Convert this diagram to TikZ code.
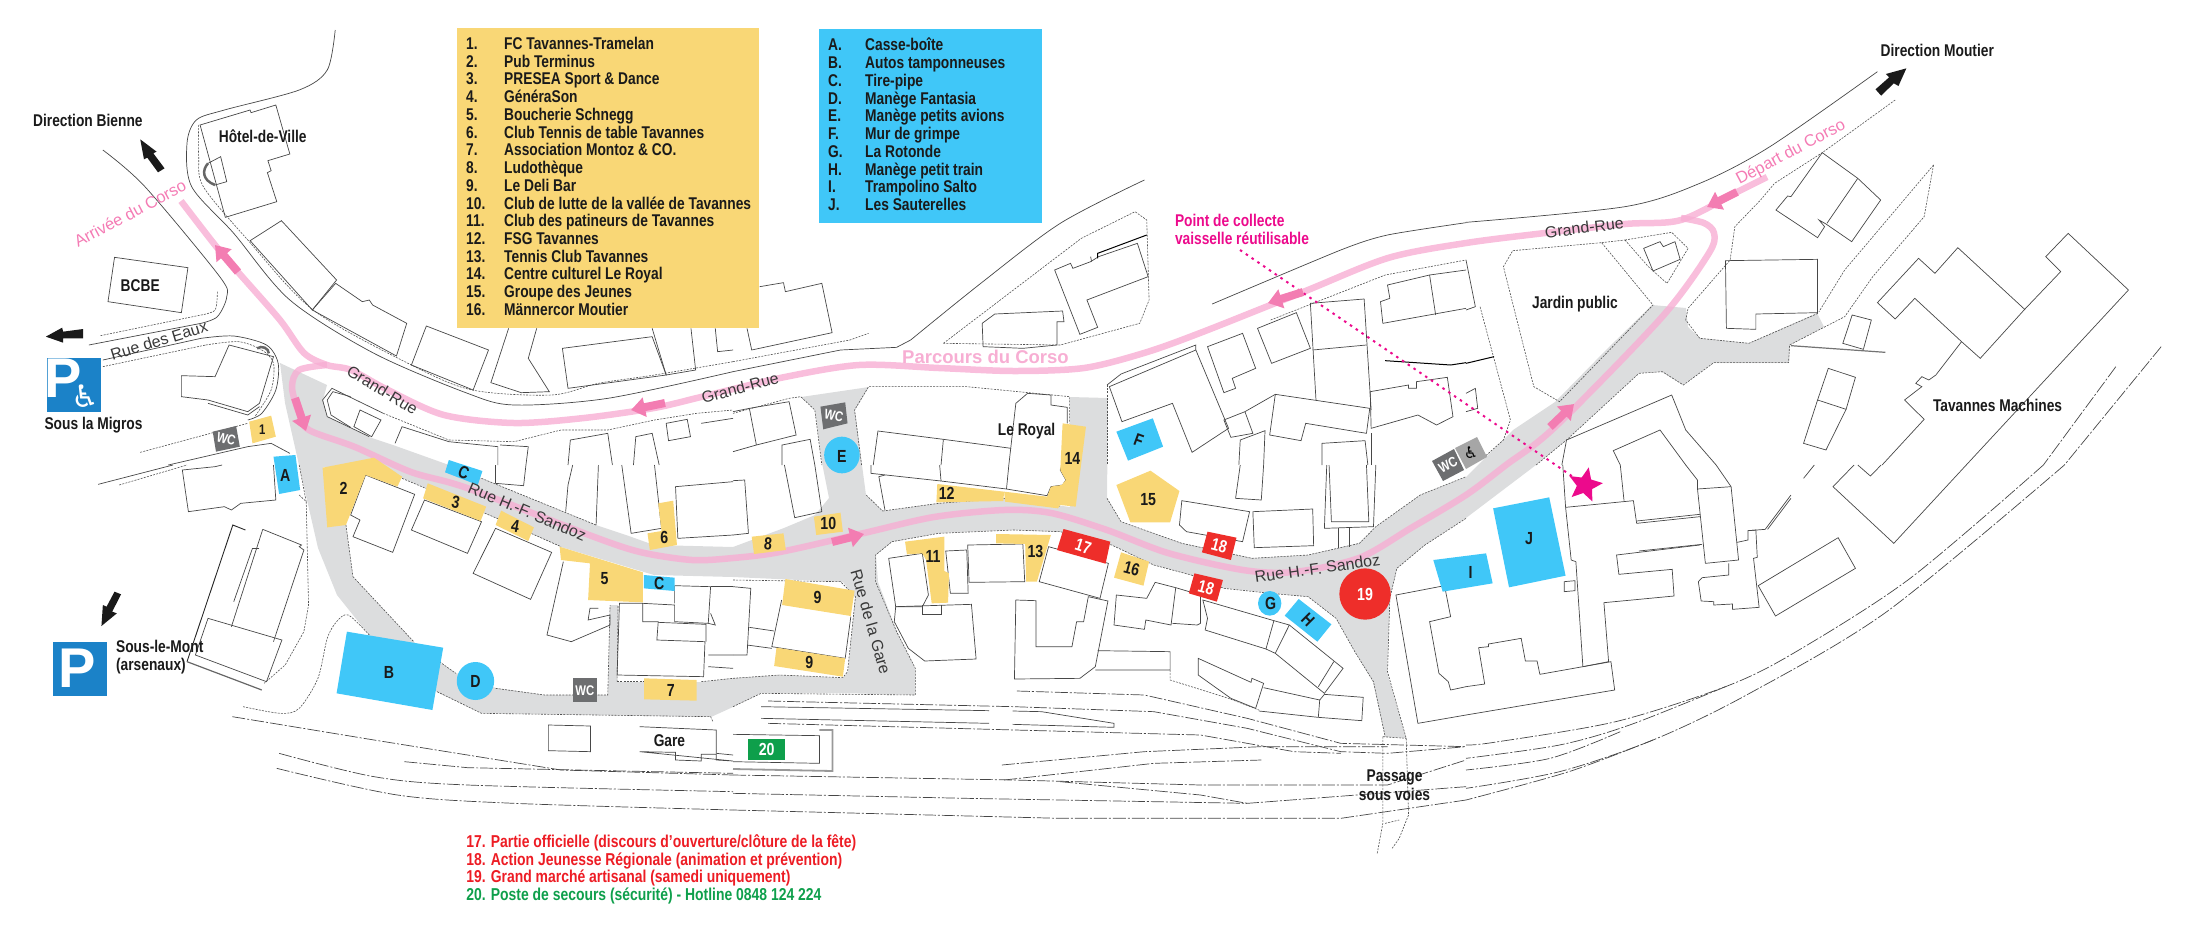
\documentclass[tikz,border=0pt]{standalone}
\usepackage{fontspec}
\usepackage{array}
\setmainfont{Liberation Sans}
\newfontfamily\narrowfont[FakeStretch=.81]{Liberation Sans}
\newfontfamily\symfont{DejaVu Sans}
\usetikzlibrary{arrows.meta,shapes.geometric}
\definecolor{roadgrey}{HTML}{DCDDDE}
\definecolor{clubyellow}{HTML}{F9D776}
\definecolor{fairblue}{HTML}{40C7F8}
\definecolor{hotred}{HTML}{EE2E2A}
\definecolor{listred}{HTML}{ED1C24}
\definecolor{aidgreen}{HTML}{0E9F4B}
\definecolor{wcgrey}{HTML}{6D6E70}
\definecolor{parkblue}{HTML}{1B82C8}
\definecolor{magentapt}{HTML}{EC0A8C}
\definecolor{corsolight}{HTML}{F7AED3}
\definecolor{corsodark}{HTML}{F37DB2}
\definecolor{corsotext}{HTML}{F47BB4}
\definecolor{ink}{HTML}{1A1A1A}
\tikzset{
	tile/.style 2 args={shift={(#1pt,-#2pt)},x=.4675pt,y=-.33333pt},
	bld/.style={draw=black!72,line width=.7pt,line join=miter},
	curb/.style={draw=black!68,line width=.6pt,dash pattern=on 2pt off 1.2pt},
	rail/.style={draw=black!72,line width=.7pt,dash pattern=on 13pt off 2pt on 2pt off 2pt},
	edge line/.style={draw=black!72,line width=.7pt},
	route/.style={draw=corsolight,line width=6.5pt,opacity=.8,line join=round},
	corsoarrow/.style={draw=corsodark,line width=8pt,-{Triangle[length=14pt,width=19pt]}},
	lbl/.style={font=\narrowfont\bfseries\fontsize{17}{17.7}\selectfont,text=ink,inner sep=0pt},
	tag/.style={lbl,font=\narrowfont\bfseries\fontsize{17.5}{18}\selectfont},
	whitetag/.style={tag,text=white},
	smalltag/.style={whitetag,font=\narrowfont\bfseries\fontsize{14}{15}\selectfont},
	street/.style={font=\fontsize{16}{18}\selectfont,text=black!78,inner sep=0pt},
	corsolabel/.style={font=\fontsize{16.5}{18}\selectfont,text=corsotext,inner sep=0pt},
	yellowbox/.style={fill=clubyellow},
	bluebox/.style={fill=fairblue},
	redbox/.style={fill=hotred},
	wcbox/.style={fill=wcgrey},
	blackarrow/.style={fill=ink},
	legendbox/.style={lbl,anchor=north west,inner sep=0pt,align=left},
	parksign/.style={inner sep=0pt,text=white,font=\bfseries\fontsize{56}{56}\selectfont}
}
\begin{document}
\begin{tikzpicture}[x=1pt,y=-1pt]
	\useasboundingbox (0,0) rectangle (2200,930);
	% roads
	\fill[roadgrey,even odd rule] (280,363) -- (327,385) -- (323,400) -- (327,417) -- (369,437) -- (393,445) -- (449,465) -- (481,478) -- (596,525) -- (626,535) -- (654,545) -- (733,547) -- (784,528) -- (815,515) -- (829,498) -- (822,463) -- (815,410) -- (801,397) -- (869,387) -- (855,410) -- (862,465) -- (866,495) -- (883,511) -- (939,503) -- (1004,498) -- (1070,507) -- (1070,397) -- (1108,398) -- (1107,498) -- (1121,522) -- (1182,543) -- (1252,558) -- (1308,555) -- (1359,543) -- (1376,527) -- (1420,495) -- (1466,477) -- (1513,430) -- (1555,402) -- (1606,350) -- (1652,305) -- (1686,308) -- (1688,327) -- (1700,338) -- (1749,343) -- (1817,313) -- (1824,327) -- (1790,345) -- (1789,363) -- (1713,363) -- (1683,385) -- (1662,372) -- (1639,373) -- (1566,440) -- (1536,465) -- (1466,518) -- (1425,545) -- (1397,568) -- (1390,598) -- (1387,672) -- (1406,738) -- (1385,737) -- (1373,682) -- (1355,652) -- (1336,618) -- (1308,597) -- (1271,593) -- (1224,588) -- (1191,575) -- (1154,565) -- (1112,545) -- (1060,532) -- (1014,530) -- (939,533) -- (892,542) -- (876,555) -- (878,582) -- (897,632) -- (915,668) -- (915,695) -- (840,693) -- (761,693) -- (733,707) -- (711,717) -- (481,713) -- (437,692) -- (369,635) -- (337,595) -- (318,548) -- (299,465) -- (285,403) -- cycle
		(323,467) -- (402,478) -- (505,522) -- (561,547) -- (654,575) -- (733,577) -- (843,582) -- (855,597) -- (848,672) -- (843,678) -- (780,675) -- (733,678) -- (701,682) -- (617,682) -- (618,605) -- (610,605) -- (608,695) -- (545,695) -- (496,688) -- (456,673) -- (439,662) -- (414,642) -- (353,577) -- (346,525) -- cycle;
	% corso route
	\draw[route] plot[smooth,tension=.5] coordinates {(1767,177) (1737,192) (1681,220) (1625,224) (1545,233) (1466,243) (1388,258) (1303,292) (1200,333) (1144,353) (1084,368) (1014,371) (939,368) (859,365) (780,378) (701,397) (654,408) (584,418) (514,423) (444,415) (388,390) (351,370) (327,365) (304,353) (280,320) (238,272) (215,245) (181,201)};
	\draw[route] plot[smooth,tension=.5] coordinates {(327,365) (299,370) (292,387) (299,413) (309,430) (355,447) (411,472) (467,488) (589,535) (640,552) (692,560) (733,558) (780,552) (864,533) (934,517) (1004,510) (1051,513) (1107,530) (1168,553) (1243,570) (1294,572) (1359,558) (1411,528) (1466,495) (1506,465) (1555,427) (1662,317) (1709,253) (1714,233) (1704,223) (1681,218)};
	% north-west part
	\begin{scope}[tile={0}{0}]
		\draw[edge line] plot[smooth,tension=.5] coordinates {(717,90) (700,210) (640,270) (480,330) (420,360) (400,430) (410,560) (500,700) (620,900) (800,1060) (1000,1180) (1100,1215) (1300,1195) (1568,1115)};
		\draw[curb] plot[smooth,tension=.5] coordinates {(425,375) (425,470) (435,560) (530,720) (670,930) (880,1095) (1010,1170) (1180,1185) (1280,1150) (1400,1125) (1568,1085)};
		\draw[edge line] plot[smooth,tension=.5] coordinates {(220,450) (310,560) (470,830) (485,890) (465,950) (430,970)} -- (190,1035);
		\draw[curb] plot[smooth,tension=.5] coordinates {(465,875) (460,930) (430,945)} -- (215,1007);
		\draw[edge line] (220,1080) -- (430,1015) plot[smooth,tension=.5] coordinates {(430,1015) (500,1008) (570,1035) (595,1090) (590,1170) (560,1240) (530,1260)};
		\draw[curb] (220,1100) -- (440,1035) plot[smooth,tension=.5] coordinates {(440,1035) (510,1025) (560,1050) (585,1090) (580,1170) (545,1250)};
		\draw[curb] (300,1357) -- (530,1270);
		\draw[edge line] (360,1395) -- (530,1340) -- (580,1330) -- (620,1360);
		\draw[bld] (428,375) -- (535,330) -- (537,338) -- (590,315) -- (620,462) -- (573,482) -- (580,512) -- (572,518) -- (592,605) -- (482,652) -- cycle;
		\draw[bld] (445,490) -- (472,470) -- (485,545) -- (460,555);
		\draw[black!60,line width=2.5pt] (445,490) .. controls (432,510) and (432,540) .. (460,555);
		\draw[black!60,line width=2.5pt] (550,1045) .. controls (560,1035) and (575,1045) .. (575,1060);
		\draw[bld] (535,722) -- (602,662) -- (720,840) -- (668,930) -- cycle;
		\draw[bld] (668,930) -- (718,850) -- (775,905) -- (790,900) -- (797,915) -- (870,970) -- (848,1068) -- cycle;
		\draw[bld] (880,1095) -- (912,978) -- (1045,1050) -- (1012,1170) -- cycle;
		\draw[bld] (1088,985) -- (1050,1148) -- (1115,1178) -- (1175,1175) -- (1130,1075) -- (1148,985);
		\draw[bld] (1203,1045) -- (1395,1010) -- (1425,1125) -- (1215,1165) -- cycle;
		\draw[bld] (1395,985) -- (1425,1125) -- (1488,1110) -- (1478,985);
		\draw[bld] (1530,985) -- (1535,1055) -- (1568,1050);
		\draw[bld] (388,1127) -- (460,1130) -- (490,1035) -- (585,1070) -- (555,1210) -- (530,1235) -- (445,1200) -- (388,1190) -- cycle;
		\draw[bld] (445,1210) -- (530,1245) -- (555,1220);
		\draw[bld] (820,1240) -- (710,1165) -- (690,1200) -- (700,1250) -- (790,1310);
		\draw[bld] (750,1190) -- (712,1175) -- (700,1200) -- (708,1245) -- (750,1282);
		\draw[bld] (770,1230) -- (815,1260) -- (795,1310) -- (757,1280) -- cycle;
		\draw[curb] (820,1240) -- (960,1320) -- (1100,1325) -- (1200,1290) -- (1300,1290) -- (1400,1260) -- (1490,1240) -- (1568,1230);
		\draw[bld] (845,1330) -- (860,1280) -- (960,1325) -- (1065,1340) -- (1065,1395);
		\draw[bld] (1070,1335) -- (1130,1340) -- (1125,1395);
		\draw[bld] (1215,1395) -- (1220,1320) -- (1300,1300) -- (1310,1395);
		\draw[bld] (1355,1395) -- (1360,1310) -- (1395,1300) -- (1410,1395);
		\draw[bld] (1425,1270) -- (1470,1258) -- (1477,1310) -- (1430,1322) -- cycle;
		\draw[bld] (1500,1270) -- (1568,1255);
		\draw[bld] (245,772) -- (402,803) -- (388,938) -- (231,905) -- cycle;
		\fill[yellowbox] (533,1265) -- (580,1247) -- (590,1310) -- (540,1330) -- cycle;
		\fill[wcbox] (455,1295) -- (505,1278) -- (513,1340) -- (462,1355) -- cycle;
		\fill[parkblue] (100,1075) rectangle (215,1237);
		\fill[blackarrow] (300,418) -- (335,455) -- (328,460) -- (352,505) -- (338,517) -- (315,473) -- (308,478) -- cycle;
		\fill[blackarrow] (98,1010) -- (133,983) -- (135,995) -- (178,987) -- (178,1015) -- (135,1015) -- (135,1028) -- cycle;
		\node[lbl] (dirBienne) at (188,362) {Direction Bienne};
		\node[lbl] (hotelVille) at (562,408) {Hôtel-de-Ville};
		\node[lbl] (bcbe) at (300,857) {BCBE};
		\node[lbl] (migros) at (200,1276) {Sous la Migros};
		\node[street,rotate=17] (rueEaux) at (340,1022) {Rue des Eaux};
		\node[street,rotate=-31] (grandRueA) at (818,1170) {Grand-Rue};
		\node[corsolabel,rotate=28] (arrivee) at (278,640) {Arrivée du Corso};
		\node[parksign] (parkA) at (136,1135) {P};
		\node[inner sep=0pt,text=white,font=\symfont\fontsize{31}{31}\selectfont] (wheelA) at (182,1190) {♿};
		\node[smalltag,rotate=-15] (wcA) at (484,1317) {WC};
		\node[tag,font=\narrowfont\bfseries\fontsize{14}{15}\selectfont] (tagOne) at (561,1290) {1};
	\end{scope}
	% north-middle part
	\begin{scope}[tile={733}{0}]
		\draw[bld] (57,860) -- (108,848) -- (112,875) -- (190,850) -- (212,998) -- (40,1050) -- (30,985);
		\draw[curb] (0,1085) -- (250,1020) -- (290,1000);
		\draw[edge line] (0,1115) -- (230,1050) -- (350,1042) -- (380,1020) plot[smooth,tension=.5] coordinates {(380,1020) (530,850) (700,670) (880,540)};
		\draw[curb] (450,1030) -- (745,715) -- (860,635) -- (885,660) -- (890,900) -- (870,970) -- (700,1035) -- cycle;
		\draw[edge line] plot[smooth,tension=.4] coordinates {(1025,912) (1300,750) (1400,705) (1568,668)};
		\draw[curb] (1150,960) -- (1395,825) -- (1568,780);
		\draw[bld] (688,810) -- (722,790) -- (727,805) -- (765,785) -- (782,770) -- (865,730) -- (888,830) -- (757,900) -- (780,982) -- (742,1003) -- cycle;
		\draw[black,line width=1pt] (885,705) -- (780,760) -- (780,775);
		\draw[bld] (765,770) -- (767,785);
		\draw[bld] (533,970) -- (560,942) -- (705,933) -- (708,965) -- (693,965) -- (693,1035) -- (620,1045) -- (535,1040) -- cycle;
		\draw[bld] (805,1160) -- (990,1050) -- (1060,1285) -- (982,1357) -- (940,1210) -- (832,1265) -- cycle;
		\draw[bld] (800,1155) -- (830,1122) -- (990,1035) -- (990,1050);
		\draw[bld] (1015,1040) -- (1090,1000) -- (1118,1105) -- (1068,1135) -- (1075,1165) -- (1050,1178) -- cycle;
		\draw[bld] (1122,985) -- (1205,938) -- (1235,1045) -- (1152,1090) -- cycle;
		\draw[bld] (1247,1200) -- (1235,910) -- (1350,897) -- (1365,1230);
		\draw[bld] (1240,1050) -- (1355,1035);
		\draw[bld] (1160,1183) -- (1362,1225) -- (1355,1300) -- (1225,1270) -- (1215,1322) -- (1148,1305) -- cycle;
		\draw[bld] (1050,1260) -- (1095,1235) -- (1112,1300) -- (1065,1312) -- cycle;
		\draw[bld] (1160,1183) -- (1095,1235);
		\draw[bld] (1082,1395) -- (1085,1320) -- (1138,1292) -- (1135,1395);
		\draw[bld] (1363,1175) -- (1445,1155) -- (1445,1165) -- (1462,1165) -- (1462,1145) -- (1528,1132) -- (1540,1250) -- (1505,1275) -- (1465,1245) -- (1365,1285) -- cycle;
		\draw[black,line width=1pt] (1395,1082) -- (1535,1095) -- (1568,1088);
		\draw[bld] (1390,970) -- (1385,905) -- (1405,895) -- (1400,855) -- (1490,825) -- (1568,810);
		\draw[bld] (1390,970) -- (1568,925);
		\draw[bld] (1490,825) -- (1503,945);
		\draw[bld] (300,1395) -- (310,1293) -- (450,1318) -- (595,1345);
		\draw[bld] (450,1318) -- (445,1395);
		\draw[bld] (590,1395) -- (605,1210) -- (630,1180) -- (680,1185) -- (680,1215) -- (715,1222) -- (715,1270);
		\draw[bld] (0,1235) -- (35,1225) -- (120,1205) -- (135,1305) -- (50,1335) -- (0,1355);
		\draw[bld] (35,1225) -- (50,1335);
		\draw[bld] (105,1395) -- (105,1335) -- (165,1318) -- (175,1395);
		\draw[curb] (0,1240) -- (120,1195) -- (145,1190) -- (175,1230) -- (190,1395);
		\draw[curb] (275,1395) -- (260,1230) -- (290,1160) -- (500,1160) -- (720,1190) -- (720,1270);
		\draw[curb] (800,1155) -- (800,1395);
		\draw[bld] (1260,1395) -- (1260,1330) -- (1352,1322) -- (1358,1395);
		\draw[bld] (1365,1395) -- (1365,1300);
		\fill[fairblue] (183,87) rectangle (660,668);
		\fill[bluebox] (820,1295) -- (898,1255) -- (920,1340) -- (845,1382) -- cycle;
		\fill[wcbox] (187,1220) -- (240,1207) -- (245,1270) -- (193,1288) -- cycle;
		\node[street,text=corsolight,font=\bfseries\fontsize{18.5}{20}\selectfont] (parcours) at (540,1072) {Parcours du Corso};
		\node[lbl] (leRoyal) at (628,1292) {Le Royal};
		\node[smalltag,rotate=-12] (wcE) at (216,1248) {WC};
		\node[tag,rotate=-20] (tagF) at (868,1320) {F};
		\node[lbl,anchor=north west,align=left,text=magentapt] (collecte) at (945,642) {Point de collecte\\vaisselle réutilisable};
	\end{scope}
	% north-east part
	\begin{scope}[tile={1466}{0}]
		\draw[edge line] plot[smooth,tension=.5] coordinates {(0,667) (340,620) (500,550) (650,440) (880,215)};
		\draw[curb] (918,300) -- (762,458) -- (660,550) -- (630,600) -- (575,680) -- (565,780) -- (475,925) -- (470,960) -- (500,1015) -- (605,1030) -- (753,940);
		\draw[curb] (1000,495) -- (980,650) -- (870,830) -- (810,950) -- (692,1035) -- (690,1088) -- (530,1088) -- (465,1155) -- (420,1115) -- (370,1120) -- (215,1320) -- (150,1395);
		\draw[curb] (1000,495) -- (810,810) -- (755,935);
		\draw[curb] (100,752) -- (290,728) -- (400,915) -- (200,1205) -- (145,1160) -- (80,800) -- cycle;
		\draw[curb] (340,720) -- (440,697) -- (475,745) -- (430,850) -- (390,800) -- cycle;
		\draw[curb] (290,728) -- (340,720);
		\draw[curb] (30,920) -- (95,1260) -- (80,1320) -- (40,1370);
		\draw[bld] (762,458) -- (838,535) -- (887,600) -- (825,725) -- (770,672) -- (755,660) -- (767,680) -- (752,713) -- (663,630) -- (688,588) -- (695,590) -- cycle;
		\draw[bld] (838,535) -- (772,670);
		\draw[bld] (380,745) -- (415,725) -- (422,740) -- (447,725) -- (458,778) -- (400,813) -- cycle;
		\draw[bld] (555,782) -- (752,778) -- (752,938) -- (620,942) -- (620,988) -- (557,985) -- cycle;
		\draw[bld] (826,945) -- (867,960) -- (850,1048) -- (806,1030) -- cycle;
		\draw[black!55,line width=1.2pt] (695,1037) -- (897,1057);
		\draw[bld] (775,1105) -- (752,1200) -- (813,1228) -- (833,1132) -- cycle;
		\draw[bld] (752,1200) -- (722,1330) -- (770,1350) -- (813,1228);
		\draw[bld] (968,775) -- (1003,820) -- (1052,743) -- (1195,928) -- (1100,1075) -- (1060,1025) -- (960,895) -- (918,957) -- (880,908) -- cycle;
		\draw[bld] (1195,928) -- (1272,815) -- (1240,770) -- (1288,700) -- (1417,870) -- (1070,1395);
		\draw[bld] (890,1395) -- (980,1258) -- (938,1200) -- (975,1160) -- (962,1150) -- (975,1130) -- (990,1140) -- (1005,1125) -- (1060,1025);
		\draw[bld] (0,780) -- (20,920) -- (0,930);
		\draw[black,line width=1pt] (0,1090) -- (60,1070);
		\draw[bld] (0,1180) -- (20,1165) -- (25,1225) -- (0,1235);
		\draw[bld] (205,1395) -- (215,1320) -- (440,1185) -- (470,1290) -- (535,1395);
		\draw[bld] (330,1395) -- (315,1352) -- (415,1290) -- (470,1395);
		\draw[rail] (1390,1100) -- (1235,1395);
		\draw[rail] (1487,1040) -- (1280,1395);
		\node[lbl] (dirMoutier) at (1008,150) {Direction Moutier};
		\node[lbl] (jardin) at (233,912) {Jardin public};
		\node[lbl] (machines) at (1137,1217) {Tavannes Machines};
		\node[street,rotate=7] (grandRueC) at (253,683) {Grand-Rue};
		\node[corsolabel,rotate=28] (depart) at (695,458) {Départ du Corso};
		\fill[blackarrow] (942,205) -- (925,258) -- (915,250) -- (888,287) -- (876,268) -- (905,232) -- (898,222) -- cycle;
	\end{scope}
	% south-west part
	\begin{scope}[tile={0}{465}]
		\draw[edge line] (210,58) -- (370,0);
		\draw[curb] (255,60) -- (400,0);
		\draw[bld] (475,0) -- (460,5) -- (390,15) -- (403,140) -- (480,125) -- (495,135) -- (515,115) -- (590,105) -- (585,0);
		\draw[black!85,line width=.9pt] (525,195) -- (498,180) -- (400,590);
		\draw[bld] (562,193) -- (645,240) -- (640,245) -- (650,255) -- (585,530);
		\draw[bld] (562,193) -- (495,485);
		\draw[bld] (540,250) -- (500,410);
		\draw[bld] (555,250) -- (540,250);
		\draw[bld] (445,460) -- (603,525) -- (570,650) -- (418,570) -- cycle;
		\draw[black!60,line width=1.2pt] (400,590) -- (560,675);
		\draw[curb] (640,90) -- (655,110) -- (660,420) -- (650,500) -- (610,600) -- (565,655);
		\draw[curb] plot[smooth,tension=.5] coordinates {(520,725) (600,745) (640,730) (680,640) (700,520) (720,470) (745,450) (790,510)};
		\draw[curb] (640,0) -- (655,110);
		\draw[curb] (755,335) -- (885,530);
		\draw[curb] (740,180) -- (755,335);
		\draw[curb] (940,590) -- (975,625) (1060,670) -- (1165,690) -- (1300,690) -- (1305,420);
		\draw[curb] (935,680) -- (1030,745) -- (1520,755) -- (1525,770);
		\draw[curb] (1320,650) -- (1322,420);
		\draw[curb] (1320,650) -- (1380,650);
		\draw[curb] (1500,650) -- (1568,640);
		\draw[curb] (860,40) -- (1080,170) -- (1200,245);
		\draw[curb] (1030,40) -- (1275,180);
		\draw[bld] (782,30) -- (887,88) -- (840,262) -- (755,215) -- (770,165) -- (750,150) -- cycle;
		\draw[bld] (908,105) -- (1030,170) -- (1000,265) -- (880,195) -- cycle;
		\draw[bld] (1060,190) -- (1180,262) -- (1135,403) -- (1012,325) -- cycle;
		\draw[bld] (1205,290) -- (1170,510) -- (1222,530) -- (1305,480) -- (1305,450) -- (1258,465) -- (1262,430) -- (1280,430);
		\draw[bld] (1325,415) -- (1320,630) -- (1505,635) -- (1508,530) -- (1405,525) -- (1408,470) -- (1375,470) -- (1375,415) -- cycle;
		\draw[bld] (1375,415) -- (1443,420) -- (1443,470) -- (1515,475) -- (1520,365) -- (1443,362) -- (1443,415);
		\draw[bld] (1408,472) -- (1510,478) -- (1510,530);
		\draw[bld] (1520,365) -- (1568,365);
		\draw[bld] (1515,475) -- (1530,480) -- (1520,445);
		\draw[bld] (1515,570) -- (1568,570) (1515,605) -- (1568,610);
		\draw[bld] (1368,785) -- (1532,795) -- (1532,865) -- (1568,870);
		\draw[bld] (1568,888) -- (1532,885) -- (1532,868) -- (1500,868) -- (1500,888) -- (1445,885) -- (1445,862) -- (1368,860) -- cycle;
		\draw[bld] (1173,780) -- (1263,783) -- (1263,860) -- (1173,857) -- cycle;
		\draw[bld] (1060,0) -- (1060,55) -- (1120,62) -- (1125,0);
		\draw[bld] (1225,0) -- (1215,60) -- (1210,140);
		\draw[bld] (1280,0) -- (1275,180);
		\draw[bld] (1330,0) -- (1350,205) -- (1415,190) -- (1400,0);
		\draw[bld] (1568,210) -- (1450,220) -- (1445,65) -- (1568,50);
		\draw[rail] (497,755) -- (800,825) -- (1200,915) -- (1568,930);
		\draw[rail] plot[smooth,tension=.5] coordinates {(597,865) (800,935) (1000,960) (1568,980)};
		\draw[rail] plot[smooth,tension=.5] coordinates {(592,910) (850,990) (1100,1015) (1568,1035)};
		\draw[rail] (865,890) -- (1000,908) -- (1568,925);
		\fill[bluebox] (585,-25) -- (632,-30) -- (642,75) -- (597,87) -- cycle;
		\fill[yellowbox] (690,8) -- (800,-22) -- (860,35) -- (850,65) -- (782,30) -- (740,180) -- (700,187) -- cycle;
		\fill[yellowbox] (915,55) -- (1040,125) -- (1028,168) -- (905,100) -- cycle;
		\fill[yellowbox] (1072,137) -- (1142,187) -- (1130,228) -- (1060,180) -- cycle;
		\fill[yellowbox] (1197,245) -- (1375,322) -- (1375,412) -- (1258,405) -- (1262,295) -- (1200,285) -- cycle;
		\fill[bluebox] (1377,330) -- (1443,338) -- (1443,378) -- (1377,370) -- cycle;
		\fill[bluebox] (960,-15) -- (1032,18) -- (1022,60) -- (952,22) -- cycle;
		\fill[yellowbox] (1408,115) -- (1440,107) -- (1448,240) -- (1390,255) -- (1385,205) -- (1415,198) -- cycle;
		\fill[yellowbox] (1378,640) -- (1490,645) -- (1490,707) -- (1378,703) -- cycle;
		\fill[wcbox] (1226,638) rectangle (1277,710);
		\fill[bluebox] (742,500) -- (948,548) -- (925,735) -- (720,685) -- cycle;
		\fill[bluebox] (1017,648) ellipse [x radius=40,y radius=57];
		\fill[parkblue] (113,530) rectangle (229,692);
		\fill[blackarrow] (217,483) -- (250,445) -- (240,440) -- (259,388) -- (245,380) -- (228,425) -- (220,420) -- cycle;
		\node[parksign] (parkB) at (165,610) {P};
		\node[lbl,anchor=west,align=left] (arsenaux) at (248,577) {Sous-le-Mont\\(arsenaux)};
		\node[tag] (tagA) at (610,30) {A};
		\node[tag] (tagTwo) at (735,70) {2};
		\node[tag,rotate=-10] (tagThree) at (975,112) {3};
		\node[tag,rotate=-10] (tagFour) at (1102,185) {4};
		\node[tag] (tagFive) at (1293,342) {5};
		\node[tag] (tagC) at (1410,355) {C};
		\node[tag,rotate=-20] (tagCb) at (992,22) {C};
		\node[tag] (tagSix) at (1421,218) {6};
		\node[tag] (tagSeven) at (1435,675) {7};
		\node[tag] (tagB) at (832,622) {B};
		\node[tag] (tagD) at (1017,650) {D};
		\node[smalltag] (wcD) at (1251,677) {WC};
		\node[street,rotate=-23] (rueSandozA) at (1128,140) {Rue H.-F. Sandoz};
		\node[lbl] (gare) at (1432,828) {Gare};
		\node[lbl,anchor=north west,align=left,font=\narrowfont\bfseries\fontsize{17.2}{17.7}\selectfont] (redList) at (997,1108) {\textcolor{listred}{17. Partie officielle (discours d’ouverture/clôture de la fête)}\\\textcolor{listred}{18. Action Jeunesse Régionale (animation et prévention)}\\\textcolor{listred}{19. Grand marché artisanal (samedi uniquement)}\\\textcolor{aidgreen}{20. Poste de secours (sécurité) - Hotline 0848 124 224}};
	\end{scope}
	% south-middle part
	\begin{scope}[tile={733}{465}]
		\draw[bld] (295,0) -- (295,25) -- (445,48) -- (585,72) -- (672,92) -- (680,65) -- (705,60) -- (712,45) -- (700,15) -- (704,0);
		\draw[bld] (445,48) -- (442,0);
		\draw[bld] (585,72) -- (590,0);
		\draw[bld] (325,135) -- (312,35) -- (325,30);
		\draw[bld] (0,47) -- (25,45) -- (33,205) -- (0,210);
		\draw[bld] (110,0) -- (132,158) -- (190,140) -- (175,0);
		\draw[bld] (1075,100) -- (1085,0);
		\draw[bld] (1135,0) -- (1130,105) -- (1075,100);
		\draw[bld] (960,107) -- (1105,140) -- (1090,230) -- (970,200) -- (955,180) -- cycle;
		\draw[bld] (1112,140) -- (1240,132) -- (1242,242) -- (1115,248) -- cycle;
		\draw[bld] (1270,0) -- (1265,190) -- (1370,185) -- (1375,0);
		\draw[bld] (1275,0) -- (1280,170) -- (1360,170) -- (1355,0);
		\draw[bld] (1295,190) -- (1295,250) (1318,190) -- (1318,245);
		\draw[curb] (320,138) -- (440,115) -- (580,100) -- (700,125);
		\draw[curb] (285,90) -- (320,138);
		\draw[curb] (800,100) -- (830,170) -- (960,235) -- (1110,280) -- (1230,270) -- (1340,235) -- (1375,185) -- (1470,90) -- (1568,35);
		\draw[curb] (0,345) -- (230,350) -- (262,395) -- (245,620) -- (235,638) -- (100,630) -- (0,640);
		\draw[curb] (0,725) -- (60,685) -- (390,690) -- (390,610) -- (350,500) -- (305,350) -- (305,270) -- (340,230) -- (440,205) -- (600,195) -- (700,200) -- (810,240) -- (900,300) -- (980,330);
		\draw[curb] (980,330) -- (1050,370) -- (1150,385) -- (1230,395) -- (1290,460) -- (1330,560) -- (1370,650) -- (1395,815);
		\draw[curb] (1568,160) -- (1480,240) -- (1420,310) -- (1405,400) -- (1400,620) -- (1440,820);
		\draw[bld] (333,280) -- (405,265) -- (418,390) -- (405,425) -- (348,425) -- cycle;
		\draw[bld] (348,425) -- (510,418) -- (520,582) -- (410,588) -- (375,550) -- (345,470) -- cycle;
		\draw[bld] (405,420) -- (405,448) -- (445,448) -- (445,420);
		\draw[bld] (455,258) -- (500,255) -- (503,385) -- (465,385) -- cycle;
		\draw[bld] (502,240) -- (620,237) -- (624,350) -- (505,352) -- cycle;
		\draw[bld] (675,245) -- (803,295) -- (785,400) -- (655,350) -- cycle;
		\draw[bld] (605,405) -- (648,407) -- (648,545) -- (725,545) -- (735,470) -- (750,470) -- (760,395) -- (802,408) -- (775,605) -- (742,640) -- (602,642) -- cycle;
		\draw[bld] (780,557) -- (935,560) -- (935,615) -- (775,615);
		\draw[bld] (820,390) -- (885,400) -- (903,352) -- (947,368) -- (937,480) -- (883,465) -- (880,493) -- (815,480) -- cycle;
		\draw[bld] (947,368) -- (1000,390) -- (1000,475) -- (993,480) -- (940,475);
		\draw[bld] (1005,405) -- (1157,467) -- (1140,552) -- (1010,495) -- (1015,460) -- cycle;
		\draw[bld] (1157,467) -- (1190,480) -- (1160,565) -- (1140,552);
		\draw[bld] (1190,480) -- (1305,610) -- (1265,685) -- (1160,565);
		\draw[bld] (1285,590) -- (1252,665);
		\draw[bld] (995,580) -- (1108,652) -- (1110,640) -- (1135,655) -- (1118,730) -- (1065,700) -- (995,630) -- cycle;
		\draw[bld] (1135,668) -- (1255,705) -- (1252,757) -- (1125,738);
		\draw[bld] (1255,705) -- (1265,688) -- (1348,697) -- (1345,767) -- (1252,757);
		\draw[curb] (935,615) -- (935,645) -- (1060,700) -- (1125,735);
		\draw[bld] (1568,665) -- (1535,675) -- (1530,650) -- (1510,625) -- (1490,470) -- (1535,455) -- (1522,362) -- (1418,390) -- (1465,775) -- (1568,750);
		\draw[bld] (104,405) -- (83,545) -- (240,580) -- (252,455);
		\draw[bld] (35,487) -- (88,498) (30,540) -- (83,550);
		\draw[bld] (0,365) -- (38,370) -- (30,570) -- (0,570);
		\draw[bld] (0,808) -- (185,812) -- (185,895) -- (0,890);
		\draw[black!40,line width=1.8pt] (185,795) -- (213,795) -- (213,918) -- (0,912);
		\draw[rail] (607,678) -- (880,690) -- (1100,760) -- (1300,835) -- (1568,845);
		\draw[rail] (75,708) -- (600,725) -- (900,740) -- (1100,790) -- (1300,860) -- (1400,865) -- (1568,845);
		\draw[bld] (60,725) -- (548,737);
		\draw[bld] (60,760) -- (548,775);
		\draw[rail] (75,775) -- (1000,810) -- (1200,860) -- (1300,865);
		\draw[bld] (598,738) -- (660,740) -- (815,775) -- (815,787) -- (598,778);
		\draw[rail] (575,900) -- (880,860) -- (1130,845) -- (1400,845);
		\draw[rail] (580,945) -- (900,895) -- (1130,885);
		\draw[rail] (0,930) -- (600,945) -- (1000,960) -- (1400,960) -- (1568,885);
		\draw[rail] (0,985) -- (500,1000) -- (1100,1015) -- (1568,965);
		\draw[rail] (0,1035) -- (700,1060) -- (1300,1060) -- (1568,1005);
		\draw[rail] (700,950) -- (1000,990) -- (1100,1015);
		\draw[curb] (1390,815) -- (1390,1075) -- (1378,1165);
		\draw[curb] (1440,820) -- (1445,1050) -- (1425,1120) -- (1410,1150);
		\draw[curb] (1395,1075) -- (1425,1065);
		\draw[curb] (1390,815) -- (1440,820);
		\fill[yellowbox] (40,215) -- (108,205) -- (113,255) -- (45,267) -- cycle;
		\fill[yellowbox] (173,155) -- (230,143) -- (235,200) -- (178,210) -- cycle;
		\fill[yellowbox] (437,57) -- (580,80) -- (578,108) -- (435,112) -- cycle;
		\fill[yellowbox] (705,-125) -- (755,-115) -- (733,125) -- (700,120) -- (695,130) -- (582,110) -- (580,80) -- (672,95) -- (680,65) -- (703,60) -- (712,45) -- (700,15) -- cycle;
		\fill[yellowbox] (893,17) -- (955,78) -- (935,172) -- (850,172) -- (820,60) -- cycle;
		\fill[yellowbox] (368,230) -- (452,215) -- (452,318) -- (462,325) -- (460,413) -- (425,415) -- (413,285) -- (405,265) -- (372,268) -- cycle;
		\fill[yellowbox] (563,207) -- (680,210) -- (650,350) -- (627,350) -- (625,237) -- (563,235) -- cycle;
		\fill[redbox] (707,192) -- (807,230) -- (797,296) -- (693,255) -- cycle;
		\fill[redbox] (1015,200) -- (1077,218) -- (1065,285) -- (1003,262) -- cycle;
		\fill[redbox] (987,325) -- (1048,345) -- (1035,410) -- (975,385) -- cycle;
		\fill[yellowbox] (830,262) -- (890,290) -- (878,362) -- (815,338) -- cycle;
		\fill[redbox] (1352,387) ellipse [x radius=55,y radius=77];
		\fill[bluebox] (1148,415) ellipse [x radius=25,y radius=37];
		\fill[bluebox] (1210,402) -- (1280,478) -- (1250,530) -- (1180,452) -- cycle;
		\fill[yellowbox] (112,342) -- (260,377) -- (252,453) -- (105,420) -- cycle;
		\fill[yellowbox] (93,548) -- (240,580) -- (235,635) -- (88,603) -- cycle;
		\fill[aidgreen] (33,822) rectangle (112,885);
		\fill[bluebox] (233,-30) ellipse [x radius=38,y radius=55];
		\node[tag] (tagE) at (233,-25) {E};
		\node[tag,rotate=-5] (tagEight) at (75,236) {8};
		\node[tag] (tagTen) at (204,176) {10};
		\node[tag] (tagTwelve) at (457,86) {12};
		\node[tag] (tagFourteen) at (726,-20) {14};
		\node[tag] (tagFifteen) at (888,105) {15};
		\node[tag] (tagEleven) at (428,275) {11};
		\node[tag] (tagThirteen) at (647,258) {13};
		\node[whitetag,rotate=-18] (tagSeventeen) at (749,244) {17};
		\node[whitetag,rotate=-15] (tagEighteenA) at (1040,243) {18};
		\node[whitetag,rotate=-15] (tagEighteenB) at (1012,367) {18};
		\node[tag,rotate=-15] (tagSixteen) at (853,312) {16};
		\node[whitetag] (tagNineteen) at (1352,387) {19};
		\node[tag] (tagG) at (1150,415) {G};
		\node[tag,rotate=-45] (tagH) at (1230,465) {H};
		\node[tag] (tagNineA) at (181,398) {9};
		\node[tag] (tagNineB) at (163,592) {9};
		\node[whitetag] (tagTwenty) at (72,853) {20};
		\node[street,rotate=8] (rueSandozB) at (1250,310) {Rue H.-F. Sandoz};
		\node[street,rotate=-74] (rueGare) at (295,470) {Rue de la Gare};
		\node[lbl,align=center,font=\narrowfont\bfseries\fontsize{17}{18.7}\selectfont] (passage) at (1415,960) {Passage\\sous voies};
	\end{scope}
	% south-east part
	\begin{scope}[tile={1466}{465}]
		\draw[bld] (207,0) -- (213,127) -- (358,107) -- (365,175) -- (500,155);
		\draw[bld] (365,168) -- (500,148);
		\draw[bld] (330,0) -- (338,107);
		\draw[bld] (500,240) -- (322,270) -- (327,328) -- (441,313) -- (445,393) -- (295,413) -- (305,590) -- (250,605) -- (235,290) -- (225,285) -- (213,127);
		\draw[bld] (370,258) -- (505,238);
		\draw[bld] (470,0) -- (495,45) -- (495,70) -- (512,295) -- (583,285) -- (567,65) -- (535,0);
		\draw[bld] (495,72) -- (567,65);
		\draw[bld] (562,295) -- (562,330) -- (505,338) -- (497,350) -- (503,408) -- (530,410) -- (530,420) -- (570,417) -- (570,433) -- (627,427) -- (615,280) -- (623,277) -- (620,195) -- (603,197) -- (603,225) -- (580,232);
		\draw[bld] (603,197) -- (640,193) -- (695,90);
		\draw[bld] (645,193) -- (695,100);
		\draw[bld] (625,362) -- (796,218) -- (833,310) -- (662,453) -- cycle;
		\draw[bld] (210,350) -- (233,347) -- (233,377) -- (210,380) -- cycle;
		\draw[bld] (1070,0) -- (915,235) -- (785,65) -- (830,0);
		\draw[bld] (838,0) -- (865,33) -- (888,0);
		\draw[bld] (745,0) -- (722,40);
		\draw[bld] (0,750) -- (318,675) -- (310,590) -- (158,628) -- (152,588) -- (127,588) -- (118,520) -- (48,537) -- (48,545) -- (27,548) -- (40,657) -- (0,665);
		\draw[rail] plot[smooth,tension=.5] coordinates {(1235,0) (950,340) (700,565) (555,665) (320,770) (60,832) (0,840)};
		\draw[rail] plot[smooth,tension=.5] coordinates {(1280,0) (900,440) (600,690) (400,825) (200,920) (0,970)};
		\draw[rail] plot[smooth,tension=.5] coordinates {(555,665) (350,780) (200,840) (0,880)};
		\draw[rail] plot[smooth,tension=.5] coordinates {(330,800) (180,880) (0,915)};
		\draw[rail] plot[smooth,tension=.5] coordinates {(400,825) (220,920) (0,1005)};
		\fill[bluebox] (58,130) -- (178,97) -- (213,332) -- (92,367) -- cycle;
		\fill[bluebox] (-70,285) -- (43,265) -- (57,355) -- (-50,380) -- cycle;
		\node[tag] (tagJ) at (135,222) {J};
		\node[tag] (tagI) at (10,322) {I};
	\end{scope}
	% collection point
	\node[star,star points=5,star point ratio=2.2,fill=magentapt,minimum size=36pt,inner sep=0pt,rotate=-12] (collectStar) at (1585,485) {};
	\coordinate (collectStart) at (1240,250);
	\draw[magentapt,line width=2pt,dash pattern=on 2.5pt off 4.5pt] (collectStart) -- (collectStar);
	% corso arrows
	\draw[corsoarrow] (238,272) -- (215,245);
	\draw[corsoarrow] (295,398) -- (306,431);
	\draw[corsoarrow] (665,403) -- (631,410);
	\draw[corsoarrow] (1303,292) -- (1268,303);
	\draw[corsoarrow] (1737,192) -- (1707,207);
	\draw[corsoarrow] (1550,427) -- (1574,404);
	\draw[corsoarrow] (832,542) -- (864,534);
	% street label over the route
	\node[street,rotate=15] (grandRueB) at (740,388) {Grand-Rue};
	% wc with access
	\fill[wcbox] (1432,461) -- (1454,449) -- (1464,470) -- (1443,481) -- cycle;
	\fill[black!35] (1455,448) -- (1477,437) -- (1487,457) -- (1466,469) -- cycle;
	\node[smalltag,rotate=28] (wcJ) at (1448,465) {WC};
	\node[inner sep=0pt,font=\symfont\fontsize{16}{16}\selectfont] (wheelJ) at (1471,453) {♿};
	% legends
	\fill[clubyellow] (457,28) rectangle (759,328);
	\node[legendbox] (clubList) at (466,37) {\setlength{\tabcolsep}{0pt}\renewcommand{\arraystretch}{1}\begin{tabular}{@{}p{38pt}l@{}}
		1. & FC Tavannes-Tramelan\\
		2. & Pub Terminus\\
		3. & PRESEA Sport \& Dance\\
		4. & GénéraSon\\
		5. & Boucherie Schnegg\\
		6. & Club Tennis de table Tavannes\\
		7. & Association Montoz \& CO.\\
		8. & Ludothèque\\
		9. & Le Deli Bar\\
		10. & Club de lutte de la vallée de Tavannes\\
		11. & Club des patineurs de Tavannes\\
		12. & FSG Tavannes\\
		13. & Tennis Club Tavannes\\
		14. & Centre culturel Le Royal\\
		15. & Groupe des Jeunes\\
		16. & Männercor Moutier
	\end{tabular}};
	\node[legendbox] (fairList) at (828,38) {\setlength{\tabcolsep}{0pt}\renewcommand{\arraystretch}{1}\begin{tabular}{@{}p{37pt}l@{}}
		A. & Casse-boîte\\
		B. & Autos tamponneuses\\
		C. & Tire-pipe\\
		D. & Manège Fantasia\\
		E. & Manège petits avions\\
		F. & Mur de grimpe\\
		G. & La Rotonde\\
		H. & Manège petit train\\
		I. & Trampolino Salto\\
		J. & Les Sauterelles
	\end{tabular}};
\end{tikzpicture}
\end{document}
